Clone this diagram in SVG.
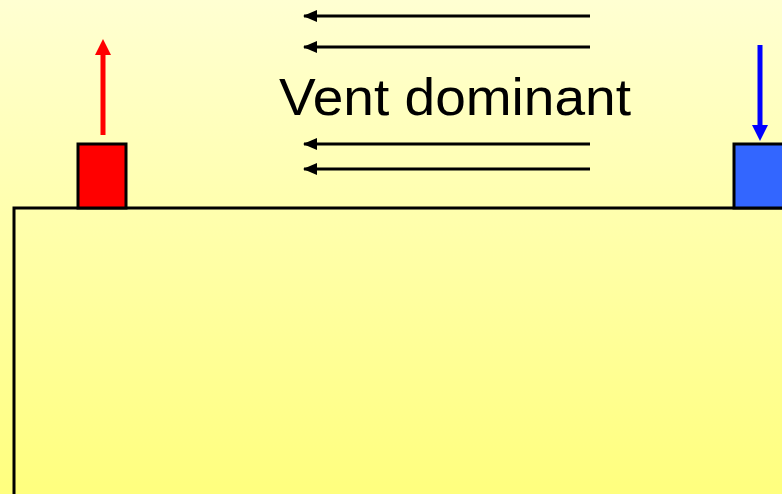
<svg xmlns="http://www.w3.org/2000/svg" width="782" height="494" viewBox="0 0 782 494">
<defs>
<linearGradient id="bg" x1="0" y1="0" x2="0" y2="1">
<stop offset="0" stop-color="#FFFFD2"/>
<stop offset="1" stop-color="#FFFF7E"/>
</linearGradient>
<marker id="blk" markerWidth="14" markerHeight="12" refX="13" refY="6" orient="auto" markerUnits="userSpaceOnUse">
<path d="M0,0 L14,6 L0,12 Z" fill="#000"/>
</marker>
</defs>
<style>
.wind{stroke:#000;stroke-width:3;fill:none;marker-end:url(#blk)}
.box{stroke:#000;stroke-width:3}
.lbl{font-family:"Comic Sans MS","Liberation Sans",sans-serif;font-size:52px;fill:#000}
</style>
<rect x="0" y="0" width="782" height="494" fill="url(#bg)"/>
<g id="building">
<rect x="14" y="208" width="780" height="300" fill="none" class="box"/>
</g>
<g id="red-vent">
<rect x="78" y="144" width="48" height="64" fill="#FF0000" class="box"/>
</g>
<g id="blue-vent">
<rect x="734" y="144" width="60" height="64" fill="#3366FF" class="box"/>
</g>
<g id="label">
<text x="279" y="115" class="lbl" textLength="352" lengthAdjust="spacingAndGlyphs">Vent dominant</text>
</g>
<g id="connectors">
<line x1="590" y1="16" x2="304" y2="16" class="wind"/>
<line x1="590" y1="47" x2="304" y2="47" class="wind"/>
<line x1="590" y1="144" x2="304" y2="144" class="wind"/>
<line x1="590" y1="169" x2="304" y2="169" class="wind"/>
<line x1="103" y1="135" x2="103" y2="54" stroke="#FF0000" stroke-width="5"/>
<path d="M95,55 L103,39 L111,55 Z" fill="#FF0000"/>
<line x1="760" y1="45" x2="760" y2="126" stroke="#0000FF" stroke-width="5"/>
<path d="M752,125 L760,141 L768,125 Z" fill="#0000FF"/>
</g>
</svg>
